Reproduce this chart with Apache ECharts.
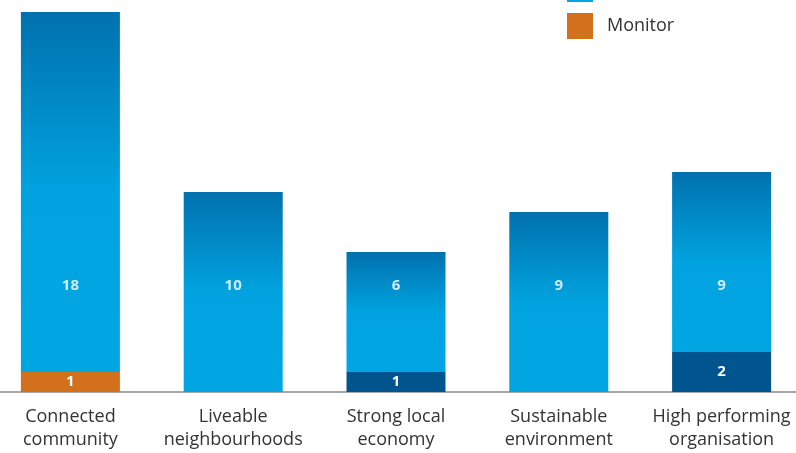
<!DOCTYPE html>
<html>
<head>
<meta charset="utf-8">
<script src="https://cdn.jsdelivr.net/npm/echarts@6/dist/echarts.min.js"></script>
<style>
html,body{margin:0;padding:0;background:#fff;}
#chart{width:796px;height:453px;}
</style>
</head>
<body>
<div id="chart"></div>
<script>
var categories = ['Connected\ncommunity', 'Liveable\nneighbourhoods', 'Strong local\neconomy', 'Sustainable\nenvironment', 'High performing\norganisation'];
var completeValues = [0, 0, 1, 0, 2];
var monitorValues = [1, 0, 0, 0, 0];
var onTrackValues = [18, 10, 6, 9, 9];
var seriesNames = ['Complete', 'Monitor', 'On track'];
var LABEL_LEVEL = 5.3;

var chart = echarts.init(document.getElementById('chart'), null, {renderer: 'canvas'});
var fontFam = '"Open Sans", "Noto Sans", sans-serif';
function hideZero(p) { return p.value ? String(p.value) : ''; }
var valueLabel = {show: true, position: 'inside', color: '#fff', fontWeight: 'bold', fontSize: 15, fontFamily: fontFam, formatter: hideZero};

var option = {
  animation: false,
  backgroundColor: '#fff',
  grid: {left: -11, right: -7, top: -8, bottom: 61, containLabel: false, outerBoundsMode: 'none'},
  legend: {
    orient: 'vertical', left: 567, top: -24, padding: 0,
    itemWidth: 26, itemHeight: 26, itemGap: 11, icon: 'rect',
    textStyle: {fontSize: 18, color: '#333', fontFamily: fontFam, padding: [0, 0, 0, 9]},
    data: [
      {name: seriesNames[2], itemStyle: {color: '#00a6e2'}},
      {name: seriesNames[1]}
    ]
  },
  xAxis: {
    type: 'category', data: categories,
    axisLine: {show: true, lineStyle: {color: '#a6a6a6', width: 2}},
    axisTick: {show: false},
    axisLabel: {interval: 0, margin: 13, fontSize: 18, lineHeight: 23, color: '#333', fontFamily: fontFam}
  },
  yAxis: {type: 'value', min: 0, max: 20, show: false, splitLine: {show: false}},
  series: [
    {name: seriesNames[0], type: 'bar', stack: 's', barWidth: 99, data: completeValues,
      itemStyle: {color: '#00558f'}, label: valueLabel},
    {name: seriesNames[1], type: 'bar', stack: 's', barWidth: 99, data: monitorValues,
      itemStyle: {color: '#d2701c'}, label: valueLabel},
    {name: seriesNames[2], type: 'bar', stack: 's', barWidth: 99, data: onTrackValues,
      itemStyle: {color: new echarts.graphic.LinearGradient(0, 0, 0, 1, [
        {offset: 0, color: '#0071ae'}, {offset: 0.5, color: '#00a3df'}, {offset: 1, color: '#00a6e2'}
      ])}, label: {show: false}},
    {name: 'labels', type: 'scatter', symbolSize: 0, silent: true,
      data: onTrackValues.map(function(v){ return LABEL_LEVEL; }),
      label: {show: true, position: 'inside', color: '#fff', fontWeight: 'bold', fontSize: 15, fontFamily: fontFam,
        formatter: function(p){ return String(onTrackValues[p.dataIndex]); }}}
  ]
};
chart.setOption(option);
</script>
</body>
</html>
